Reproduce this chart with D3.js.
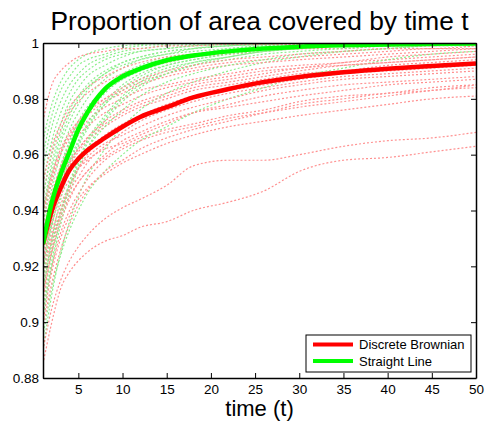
<!DOCTYPE html>
<html>
<head>
<meta charset="utf-8">
<script src="https://cdn.jsdelivr.net/npm/d3@7"></script>
<style>
  html, body { margin: 0; padding: 0; background: #fff; }
  svg { display: block; font-family: "Liberation Sans", Arial, Helvetica, sans-serif; }
</style>
</head>
<body>
<svg id="chart"></svg>
<script>
const times = [1, 2, 3, 4, 5, 6, 8, 10, 12, 15, 18, 22, 26, 30, 35, 40, 45, 50];

// averages (thick lines)
const brownianMean = [0.928, 0.940, 0.948, 0.9545, 0.9585, 0.9615, 0.966, 0.970, 0.9735, 0.977, 0.9805, 0.9835, 0.986, 0.9878, 0.9895, 0.9908, 0.9918, 0.9927];
const straightMean = [0.928, 0.943, 0.953, 0.961, 0.969, 0.975, 0.9835, 0.988, 0.9908, 0.9938, 0.9955, 0.997, 0.998, 0.9987, 0.9992, 0.9995, 0.9997, 0.9998];

// individual runs (thin dotted lines)
const brownianRuns = [
  [0.885, 0.900, 0.912, 0.918, 0.922, 0.925, 0.929, 0.931, 0.934, 0.936, 0.940, 0.943, 0.947, 0.954, 0.958, 0.959, 0.961, 0.963],
  [0.890, 0.905, 0.915, 0.922, 0.927, 0.931, 0.937, 0.941, 0.944, 0.949, 0.956, 0.958, 0.958, 0.960, 0.963, 0.965, 0.966, 0.968],
  [0.900, 0.918, 0.930, 0.938, 0.944, 0.948, 0.953, 0.957, 0.960, 0.964, 0.967, 0.970, 0.972, 0.974, 0.976, 0.978, 0.980, 0.981],
  [0.910, 0.925, 0.936, 0.944, 0.950, 0.954, 0.959, 0.963, 0.966, 0.969, 0.971, 0.974, 0.976, 0.979, 0.981, 0.982, 0.984, 0.985],
  [0.920, 0.935, 0.945, 0.951, 0.955, 0.958, 0.962, 0.964, 0.967, 0.971, 0.975, 0.978, 0.981, 0.983, 0.985, 0.986, 0.987, 0.988],
  [0.915, 0.930, 0.940, 0.947, 0.952, 0.957, 0.963, 0.968, 0.972, 0.976, 0.979, 0.982, 0.984, 0.986, 0.988, 0.989, 0.990, 0.991],
  [0.925, 0.940, 0.950, 0.956, 0.961, 0.965, 0.970, 0.974, 0.977, 0.980, 0.983, 0.985, 0.987, 0.989, 0.990, 0.992, 0.993, 0.994],
  [0.930, 0.945, 0.955, 0.962, 0.967, 0.970, 0.975, 0.978, 0.981, 0.984, 0.986, 0.988, 0.990, 0.991, 0.993, 0.994, 0.995, 0.996],
  [0.935, 0.950, 0.960, 0.966, 0.971, 0.974, 0.979, 0.982, 0.985, 0.988, 0.990, 0.992, 0.993, 0.994, 0.995, 0.996, 0.997, 0.998],
  [0.945, 0.960, 0.969, 0.975, 0.979, 0.982, 0.986, 0.989, 0.991, 0.993, 0.995, 0.996, 0.997, 0.998, 0.998, 0.999, 0.999, 0.9995],
  [0.905, 0.920, 0.932, 0.940, 0.946, 0.951, 0.958, 0.962, 0.965, 0.968, 0.970, 0.973, 0.975, 0.977, 0.979, 0.981, 0.983, 0.984],
  [0.918, 0.932, 0.942, 0.949, 0.955, 0.959, 0.964, 0.967, 0.970, 0.974, 0.977, 0.980, 0.983, 0.985, 0.987, 0.988, 0.989, 0.990],
  [0.928, 0.943, 0.952, 0.958, 0.962, 0.966, 0.971, 0.975, 0.978, 0.981, 0.984, 0.986, 0.988, 0.990, 0.992, 0.993, 0.994, 0.995],
  [0.940, 0.953, 0.962, 0.968, 0.972, 0.976, 0.980, 0.983, 0.986, 0.989, 0.991, 0.993, 0.994, 0.995, 0.996, 0.997, 0.998, 0.998],
  [0.912, 0.928, 0.938, 0.945, 0.950, 0.954, 0.960, 0.965, 0.968, 0.972, 0.975, 0.977, 0.979, 0.981, 0.983, 0.985, 0.986, 0.987],
  [0.932, 0.946, 0.956, 0.963, 0.968, 0.972, 0.977, 0.980, 0.983, 0.985, 0.987, 0.989, 0.991, 0.992, 0.993, 0.995, 0.996, 0.997],
  [0.922, 0.937, 0.947, 0.954, 0.959, 0.962, 0.967, 0.971, 0.974, 0.978, 0.981, 0.983, 0.985, 0.987, 0.989, 0.990, 0.991, 0.992],
  [0.950, 0.963, 0.971, 0.977, 0.981, 0.984, 0.988, 0.991, 0.993, 0.995, 0.996, 0.997, 0.998, 0.998, 0.999, 0.999, 0.9995, 0.9995],
  [0.898, 0.914, 0.926, 0.935, 0.942, 0.947, 0.954, 0.958, 0.962, 0.966, 0.969, 0.972, 0.975, 0.978, 0.980, 0.982, 0.983, 0.985],
  [0.926, 0.941, 0.951, 0.957, 0.962, 0.966, 0.972, 0.976, 0.979, 0.982, 0.985, 0.987, 0.989, 0.991, 0.992, 0.993, 0.994, 0.995],
  [0.972, 0.985, 0.990, 0.993, 0.995, 0.996, 0.997, 0.998, 0.998, 0.999, 0.999, 0.9995, 0.9995, 0.9995, 1, 1, 1, 1],
  [0.908, 0.926, 0.939, 0.948, 0.955, 0.960, 0.966, 0.970, 0.973, 0.977, 0.980, 0.983, 0.986, 0.988, 0.990, 0.991, 0.992, 0.993],
  [0.938, 0.952, 0.961, 0.967, 0.972, 0.975, 0.980, 0.984, 0.987, 0.990, 0.992, 0.994, 0.995, 0.996, 0.997, 0.998, 0.998, 0.999]
];

const straightRuns = [
  [0.890, 0.910, 0.925, 0.936, 0.945, 0.952, 0.962, 0.970, 0.976, 0.982, 0.986, 0.990, 0.993, 0.995, 0.997, 0.998, 0.999, 0.9995],
  [0.900, 0.920, 0.935, 0.946, 0.955, 0.962, 0.972, 0.979, 0.984, 0.989, 0.992, 0.995, 0.997, 0.998, 0.999, 0.9995, 1, 1],
  [0.910, 0.930, 0.944, 0.955, 0.963, 0.969, 0.978, 0.984, 0.988, 0.992, 0.994, 0.996, 0.998, 0.999, 0.9995, 1, 1, 1],
  [0.920, 0.938, 0.951, 0.961, 0.968, 0.974, 0.982, 0.987, 0.990, 0.993, 0.995, 0.997, 0.998, 0.999, 0.9995, 1, 1, 1],
  [0.930, 0.948, 0.960, 0.969, 0.975, 0.980, 0.987, 0.991, 0.994, 0.996, 0.997, 0.998, 0.999, 0.9995, 1, 1, 1, 1],
  [0.940, 0.957, 0.968, 0.976, 0.981, 0.985, 0.990, 0.993, 0.995, 0.997, 0.998, 0.999, 0.9995, 1, 1, 1, 1, 1],
  [0.950, 0.965, 0.975, 0.982, 0.987, 0.990, 0.994, 0.996, 0.997, 0.998, 0.999, 0.9995, 1, 1, 1, 1, 1, 1],
  [0.960, 0.974, 0.983, 0.988, 0.992, 0.994, 0.996, 0.998, 0.999, 0.9995, 1, 1, 1, 1, 1, 1, 1, 1],
  [0.895, 0.912, 0.924, 0.933, 0.940, 0.946, 0.954, 0.960, 0.965, 0.970, 0.975, 0.980, 0.984, 0.988, 0.991, 0.994, 0.996, 0.997],
  [0.915, 0.934, 0.947, 0.957, 0.964, 0.970, 0.978, 0.983, 0.987, 0.991, 0.993, 0.995, 0.997, 0.998, 0.999, 0.9995, 1, 1],
  [0.925, 0.943, 0.955, 0.964, 0.971, 0.976, 0.984, 0.989, 0.992, 0.995, 0.996, 0.998, 0.999, 0.9995, 1, 1, 1, 1],
  [0.935, 0.952, 0.964, 0.972, 0.978, 0.983, 0.989, 0.992, 0.994, 0.996, 0.998, 0.999, 0.9995, 1, 1, 1, 1, 1],
  [0.945, 0.961, 0.971, 0.979, 0.984, 0.988, 0.992, 0.995, 0.997, 0.998, 0.999, 0.9995, 1, 1, 1, 1, 1, 1],
  [0.905, 0.925, 0.939, 0.950, 0.958, 0.965, 0.974, 0.981, 0.986, 0.990, 0.993, 0.995, 0.997, 0.998, 0.999, 0.9995, 1, 1],
  [0.928, 0.944, 0.956, 0.965, 0.972, 0.977, 0.983, 0.987, 0.990, 0.993, 0.995, 0.997, 0.998, 0.999, 0.9995, 1, 1, 1],
  [0.955, 0.970, 0.979, 0.985, 0.989, 0.992, 0.995, 0.997, 0.998, 0.999, 0.9995, 1, 1, 1, 1, 1, 1, 1],
  [0.918, 0.936, 0.949, 0.958, 0.965, 0.971, 0.979, 0.985, 0.989, 0.992, 0.994, 0.996, 0.997, 0.998, 0.999, 0.9995, 1, 1],
  [0.938, 0.955, 0.966, 0.974, 0.980, 0.984, 0.989, 0.993, 0.995, 0.997, 0.998, 0.999, 0.9995, 1, 1, 1, 1, 1],
  [0.912, 0.928, 0.940, 0.949, 0.956, 0.962, 0.970, 0.976, 0.981, 0.986, 0.989, 0.992, 0.994, 0.996, 0.997, 0.998, 0.999, 0.999],
  [0.965, 0.978, 0.986, 0.991, 0.994, 0.996, 0.998, 0.999, 0.9995, 1, 1, 1, 1, 1, 1, 1, 1, 1],
  [0.902, 0.922, 0.937, 0.948, 0.957, 0.964, 0.973, 0.980, 0.985, 0.989, 0.992, 0.994, 0.996, 0.997, 0.998, 0.999, 0.9995, 1]
];

const xTicks = [5, 10, 15, 20, 25, 30, 35, 40, 45, 50];
const yTicks = [0.88, 0.9, 0.92, 0.94, 0.96, 0.98, 1];
const yTickLabels = ["0.88", "0.9", "0.92", "0.94", "0.96", "0.98", "1"];
const legendLabels = ["Discrete Brownian", "Straight Line"];

const width = 485;
const height = 423;
const margin = { top: 43, right: 9, bottom: 45, left: 43 };
const chartWidth = width - margin.left - margin.right;
const chartHeight = height - margin.top - margin.bottom;

const svg = d3.select("#chart").attr("width", width).attr("height", height);

svg.append("text")
  .attr("x", margin.left + chartWidth / 2)
  .attr("y", 30)
  .attr("text-anchor", "middle")
  .attr("font-size", 26.3)
  .text("Proportion of area covered by time t");

const root = svg.append("g").attr("transform", `translate(${margin.left},${margin.top})`);

const x = d3.scaleLinear().domain([1, 50]).range([0, chartWidth]);
const y = d3.scaleLinear().domain([0.88, 1]).range([chartHeight, 0]);

root.append("clipPath").attr("id", "plot-clip")
  .append("rect").attr("width", chartWidth).attr("height", chartHeight);

const line = d3.line()
  .x((d, i) => x(times[i]))
  .y((d) => y(d))
  .curve(d3.curveMonotoneX);

const plot = root.append("g").attr("clip-path", "url(#plot-clip)");

// interleave the thin runs so neither colour sits fully on top
const thin = [];
const n = Math.max(brownianRuns.length, straightRuns.length);
for (let i = 0; i < n; i++) {
  if (brownianRuns[i]) thin.push({ v: brownianRuns[i], c: "#ff9090" });
  if (straightRuns[i]) thin.push({ v: straightRuns[i], c: "#8cee8c" });
}

plot.selectAll("path.run")
  .data(thin)
  .join("path")
  .attr("class", "run")
  .attr("fill", "none")
  .attr("stroke", (d) => d.c)
  .attr("stroke-width", 1.2)
  .attr("stroke-dasharray", "2,2")
  .attr("d", (d) => line(d.v));

const means = [
  { v: brownianMean, c: "#ff0000" },
  { v: straightMean, c: "#00ff00" }
];

plot.selectAll("path.mean")
  .data(means)
  .join("path")
  .attr("class", "mean")
  .attr("fill", "none")
  .attr("stroke", (d) => d.c)
  .attr("stroke-width", 4.5)
  .attr("stroke-linejoin", "round")
  .attr("d", (d) => line(d.v));

// axes, MATLAB style box with inward ticks
const axisStyle = (g) => {
  g.attr("font-family", null);
  g.select(".domain").attr("stroke", "#000").attr("stroke-width", 1.5);
  g.selectAll(".tick line").attr("stroke", "#000").attr("stroke-width", 1);
  g.selectAll(".tick text").attr("font-size", 13.5).attr("fill", "#000");
};

root.append("g")
  .attr("transform", `translate(0,${chartHeight})`)
  .call(d3.axisBottom(x).tickValues(xTicks).tickSizeInner(-5).tickSizeOuter(0).tickPadding(6))
  .call(axisStyle);

root.append("g")
  .call(d3.axisLeft(y).tickValues(yTicks).tickFormat((d, i) => yTickLabels[i]).tickSizeInner(-5).tickSizeOuter(0).tickPadding(4))
  .call(axisStyle);

root.append("g")
  .call(d3.axisTop(x).tickValues(xTicks).tickSizeInner(-5).tickSizeOuter(0).tickFormat(""))
  .call(axisStyle);

root.append("g")
  .attr("transform", `translate(${chartWidth},0)`)
  .call(d3.axisRight(y).tickValues(yTicks).tickSizeInner(-5).tickSizeOuter(0).tickFormat(""))
  .call(axisStyle);

svg.append("text")
  .attr("x", margin.left + chartWidth / 2)
  .attr("y", 416)
  .attr("text-anchor", "middle")
  .attr("font-size", 22)
  .text("time (t)");

// legend
const legend = svg.append("g").attr("transform", "translate(306,335)");
legend.append("rect")
  .attr("width", 165)
  .attr("height", 37)
  .attr("fill", "#fff")
  .attr("stroke", "#000")
  .attr("stroke-width", 1);

const items = legend.selectAll("g.item")
  .data(legendLabels)
  .join("g")
  .attr("class", "item")
  .attr("transform", (d, i) => `translate(0,${9.5 + i * 16.5})`);

items.append("line")
  .attr("x1", 7)
  .attr("x2", 47)
  .attr("stroke", (d, i) => means[i].c)
  .attr("stroke-width", 4);

items.append("text")
  .attr("x", 53)
  .attr("y", 4.8)
  .attr("font-size", 13)
  .text((d) => d);
</script>
</body>
</html>
